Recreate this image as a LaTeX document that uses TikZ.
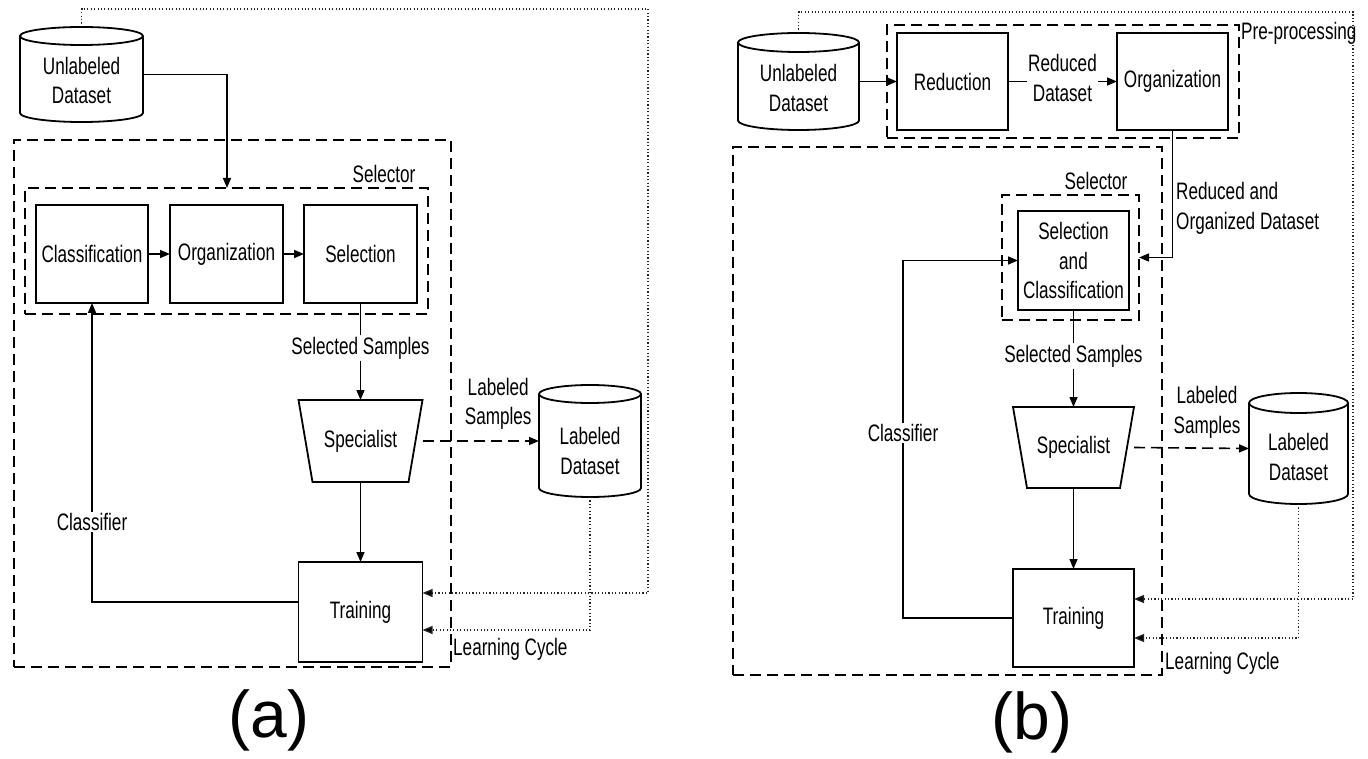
\documentclass[tikz,border=0pt]{standalone}
\usepackage{fontspec}
\setmainfont[FakeStretch=0.72]{Liberation Sans}
\newfontfamily\capfont{Liberation Sans}
\usetikzlibrary{arrows.meta}
\tikzset{
  plain/.style={inner sep=0pt, outer sep=0pt},
  box/.style={plain, draw, line width=1.8pt},
  grp/.style={plain, draw, line width=1.6pt, dash pattern=on 11pt off 6pt},
  txt/.style={align=center, inner sep=1pt},
  lbl/.style={fill=white, align=center, inner sep=1.5pt},
  cylline/.style={line width=1.8pt},
  trapline/.style={line width=1.8pt, line join=miter},
  arr/.style={line width=1.5pt, -{Triangle[length=10pt,width=8pt]}},
  darr/.style={line width=1.6pt, dash pattern=on 11pt off 6pt, -{Triangle[length=10pt,width=8pt]}},
  dotl/.style={line width=1.2pt, black!85, dash pattern=on 1.1pt off 2.3pt, -{Triangle[length=10pt,width=8pt,fill=black]}},
}
\begin{document}
\begin{tikzpicture}[x=1pt, y=-1pt, font=\fontsize{23.8}{29.5}\selectfont]
\useasboundingbox (0,0) rectangle (1368,759);

% ================= (a) =================
\node[grp, minimum width=437, minimum height=527] (outer1) at (232.5,403.5) {};
\node[grp, minimum width=403, minimum height=126] (selg1) at (226.5,251) {};
\node[txt] (sellab1) at (384,174) {Selector};

\node[box, minimum width=112, minimum height=98] (cls1) at (92,254) {Classification};
\node[box, minimum width=113, minimum height=98] (org1) at (226.5,254) {Organization};
\node[box, minimum width=113, minimum height=98] (selb1) at (360.5,254) {Selection};

\node[plain, minimum width=124, minimum height=82] (spec1) at (360.5,441) {Specialist};
\draw[trapline] (spec1.north west) -- (spec1.north east) -- ([xshift=-14pt]spec1.south east) -- ([xshift=14pt]spec1.south west) -- cycle;

\node[box, minimum width=124, minimum height=100] (train1) at (360.5,612) {Training};

\node[plain, minimum width=123, minimum height=95] (ud1) at (81.5,74.5) {};
\draw[cylline] ([yshift=-9pt]ud1.north west) -- ([yshift=9pt]ud1.south west) arc[start angle=180, end angle=360, x radius=61.5pt, y radius=9pt] -- ([yshift=-9pt]ud1.north east);
\draw[cylline] ([yshift=-9pt]ud1.north) ellipse[x radius=61.5pt, y radius=9pt];
\node[txt] (ud1t) at (81.5,80.5) {Unlabeled\\Dataset};

\node[plain, minimum width=102, minimum height=112] (ld1) at (590,441) {};
\draw[cylline] ([yshift=-9pt]ld1.north west) -- ([yshift=9pt]ld1.south west) arc[start angle=180, end angle=360, x radius=51pt, y radius=9pt] -- ([yshift=-9pt]ld1.north east);
\draw[cylline] ([yshift=-9pt]ld1.north) ellipse[x radius=51pt, y radius=9pt];
\node[txt] (ld1t) at (590,451) {Labeled\\Dataset};

\coordinate (in1) at (227,188);
\draw[arr] (ud1.east) -| (in1);
\draw[arr] (cls1.east) -- (org1.west);
\draw[arr] (org1.east) -- (selb1.west);
\draw[arr] (selb1.south) -- node[lbl, pos=0.464] {Selected Samples} (spec1.north);
\draw[arr] (spec1.south) -- (train1.north);
\draw[darr] (spec1.east) -- node[txt, pos=0.65, yshift=37pt] {Labeled\\Samples} (ld1.west);
\draw[arr] ([yshift=10pt]train1.west) -| node[lbl, pos=0.634] {Classifier} (cls1.south);
\coordinate (loop1) at (648,9);
\draw[dotl] (ud1.north) |- (loop1) |- ([yshift=19pt]train1.east);
\draw[dotl] (ld1.south) |- ([yshift=-18pt]train1.east);
\node[anchor=base west, inner sep=1pt] (lc1) at (452,655) {Learning Cycle};
\node (capa) at (269,720) {\capfont\fontsize{66}{70}\selectfont (a)};

% ================= (b) =================
\node[grp, minimum width=429, minimum height=528] (outer2) at (947.5,411) {};
\node[grp, minimum width=352, minimum height=113] (pre2) at (1063,81.5) {};
\node[anchor=base west, inner sep=1pt] (prelab) at (1240,39.5) {Pre-processing};
\node[grp, minimum width=137, minimum height=125] (selg2) at (1070.5,257.5) {};
\node[txt] (sellab2) at (1096,181) {Selector};

\node[box, minimum width=111, minimum height=97] (red2) at (952.5,81.5) {Reduction};
\node[box, minimum width=111, minimum height=97] (org2) at (1172.5,81.5) {Organization};
\node[box, minimum width=111, minimum height=99, align=center] (sc2) at (1073.5,260.5) {Selection\\and\\Classification};

\node[plain, minimum width=121, minimum height=81] (spec2) at (1073.5,447.5) {Specialist};
\draw[trapline] (spec2.north west) -- (spec2.north east) -- ([xshift=-14pt]spec2.south east) -- ([xshift=14pt]spec2.south west) -- cycle;

\node[box, minimum width=121, minimum height=98] (train2) at (1073.5,618) {Training};

\node[plain, minimum width=121, minimum height=97] (ud2) at (798.5,81.5) {};
\draw[cylline] ([yshift=-9.5pt]ud2.north west) -- ([yshift=9.5pt]ud2.south west) arc[start angle=180, end angle=360, x radius=60.5pt, y radius=9.5pt] -- ([yshift=-9.5pt]ud2.north east);
\draw[cylline] ([yshift=-9.5pt]ud2.north) ellipse[x radius=60.5pt, y radius=9.5pt];
\node[txt] (ud2t) at (798.5,88) {Unlabeled\\Dataset};

\node[plain, minimum width=99, minimum height=111] (ld2) at (1298.5,448.5) {};
\draw[cylline] ([yshift=-10pt]ld2.north west) -- ([yshift=10pt]ld2.south west) arc[start angle=180, end angle=360, x radius=49.5pt, y radius=10pt] -- ([yshift=-10pt]ld2.north east);
\draw[cylline] ([yshift=-10pt]ld2.north) ellipse[x radius=49.5pt, y radius=10pt];
\node[txt] (ld2t) at (1298.5,457) {Labeled\\Dataset};

\draw[arr] (ud2.east) -- (red2.west);
\draw[arr] (red2.east) -- node[lbl, inner sep=1pt, yshift=3.5pt] {Reduced\\Dataset} (org2.west);
\draw[arr] (org2.south) |- (selg2.east);
\node[anchor=west, align=left, inner sep=1pt] (rod) at (1175,208.5) {Reduced and\\Organized Dataset};
\draw[arr] (sc2.south) -- node[lbl, pos=0.474] {Selected Samples} (spec2.north);
\draw[arr] (spec2.south) -- (train2.north);
\draw[darr] (spec2.east) -- node[txt, pos=0.635, yshift=36pt] {Labeled\\Samples} (ld2.west);
\coordinate (cl2) at (903,260.5);
\draw[arr] (train2.west) -| node[lbl, pos=0.759] {Classifier} (cl2) -- (sc2.west);
\coordinate (loop2) at (1353,12);
\draw[dotl] (ud2.north) |- (loop2) |- ([yshift=19pt]train2.east);
\draw[dotl] (ld2.south) |- ([yshift=-20pt]train2.east);
\node[anchor=base west, inner sep=1pt] (lc2) at (1164,669) {Learning Cycle};
\node (capb) at (1032,722) {\capfont\fontsize{66}{70}\selectfont (b)};
\end{tikzpicture}
\end{document}
